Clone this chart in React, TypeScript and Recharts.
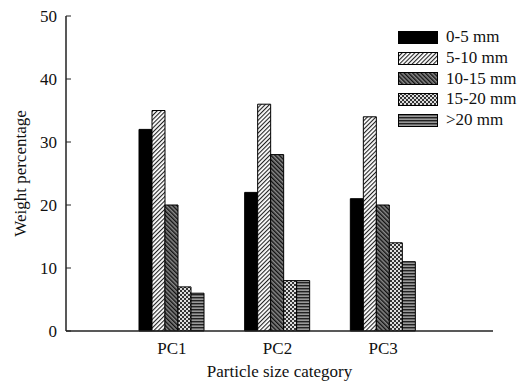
import React from "react";
import {
  BarChart,
  Bar,
  XAxis,
  YAxis,
  Legend,
} from "recharts";

const categories = ["PC1", "PC2", "PC3"];
const seriesNames = ["0-5 mm", "5-10 mm", "10-15 mm", "15-20 mm", ">20 mm"];
const s0_5 = [32, 22, 21];
const s5_10 = [35, 36, 34];
const s10_15 = [20, 28, 20];
const s15_20 = [7, 8, 14];
const s20 = [6, 8, 11];
const yTicks = [0, 10, 20, 30, 40, 50];

const seriesValues = [s0_5, s5_10, s10_15, s15_20, s20];
const fills = ["#000", "url(#p510)", "url(#p1015)", "url(#p1520)", "url(#p20)"];

const data = categories.map((c, i) => {
  const row: any = { name: c };
  seriesNames.forEach((s, j) => {
    row[s] = seriesValues[j][i];
  });
  return row;
});

const font = "'Liberation Serif', 'Times New Roman', serif";

const LegendBox = () => (
  <div style={{ fontFamily: font, fontSize: 17, color: "#111" }}>
    {seriesNames.map((s, i) => (
      <div key={s} style={{ display: "flex", alignItems: "center", height: 20.7 }}>
        <svg width={40} height={13} style={{ marginRight: 8 }}>
          <rect x={0.5} y={0.5} width={39} height={12} fill={fills[i]} stroke="#000" />
        </svg>
        <span>{s}</span>
      </div>
    ))}
  </div>
);

const App = () => {
  return (
    <div style={{ position: "absolute", left: 0, top: 0, background: "#fff" }}>
      <BarChart
        width={520}
        height={381}
        data={data}
        margin={{ top: 16, right: 27, bottom: 0, left: 0 }}
        barGap={0}
        barSize={13}
      >
        <defs>
          <pattern id="p510" width={3} height={3} patternUnits="userSpaceOnUse" patternTransform="rotate(45)">
            <rect width={3} height={3} fill="#fff" />
            <rect width={1.1} height={3} fill="#222" />
          </pattern>
          <pattern id="p1015" width={3} height={3} patternUnits="userSpaceOnUse" patternTransform="rotate(-45)">
            <rect width={3} height={3} fill="#888" />
            <rect width={1.4} height={3} fill="#111" />
          </pattern>
          <pattern id="p1520" width={4} height={4} patternUnits="userSpaceOnUse">
            <rect width={4} height={4} fill="#333" />
            <rect x={0} y={0} width={2} height={2} fill="#ddd" />
            <rect x={2} y={2} width={2} height={2} fill="#ddd" />
          </pattern>
          <pattern id="p20" width={3} height={3} patternUnits="userSpaceOnUse">
            <rect width={3} height={3} fill="#999" />
            <rect width={3} height={1.4} fill="#222" />
          </pattern>
        </defs>
        <XAxis
          dataKey="name"
          padding={{ left: 53, right: 57 }}
          tickLine={false}
          axisLine={{ stroke: "#222", strokeWidth: 1.5 }}
          tick={{ fill: "#111", fontSize: 17, fontFamily: font }}
          tickMargin={5}
          height={50}
          label={{
            value: "Particle size category",
            position: "insideBottom",
            offset: 4,
            fill: "#111",
            fontSize: 17,
            fontFamily: font,
          }}
        />
        <YAxis
          width={66}
          domain={[0, 50]}
          ticks={yTicks}
          interval={0}
          tickSize={-5}
          tickMargin={14}
          tickLine={{ stroke: "#222" }}
          axisLine={{ stroke: "#222", strokeWidth: 1.5 }}
          tick={{ fill: "#111", fontSize: 17, fontFamily: font }}
          label={{
            value: "Weight percentage",
            angle: -90,
            position: "insideLeft",
            offset: 20,
            style: { textAnchor: "middle" },
            fill: "#111",
            fontSize: 17,
            fontFamily: font,
          }}
        />
        <Legend
          layout="horizontal"
          verticalAlign="middle"
          align="center"
          content={<LegendBox />}
          wrapperStyle={{ top: 27, left: 398, width: 120 }}
        />
        {seriesNames.map((s, i) => (
          <Bar
            key={s}
            dataKey={s}
            fill={fills[i]}
            stroke="#000"
            strokeWidth={1}
            isAnimationActive={false}
          />
        ))}
      </BarChart>
    </div>
  );
};

export default App;
